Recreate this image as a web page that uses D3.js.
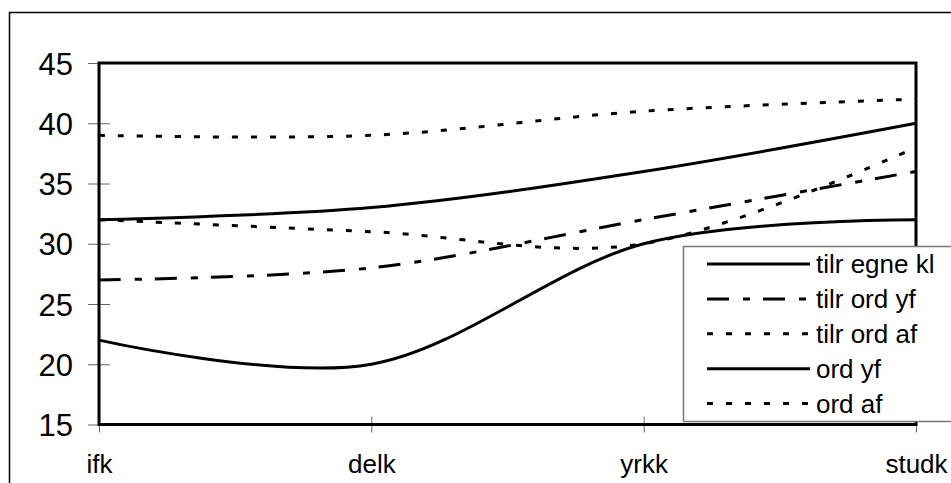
<!DOCTYPE html>
<html><head><meta charset="utf-8">
<script src="https://cdn.jsdelivr.net/npm/d3@7"></script>
<style>html,body{margin:0;padding:0;background:#fff;}svg{display:block;}</style>
</head><body>
<script>
const categories = ["ifk", "delk", "yrkk", "studk"];
const seriesNames = ["tilr egne kl", "tilr ord yf", "tilr ord af", "ord yf", "ord af"];
const tilrEgneKl = [32, 33, 36, 40];
const tilrOrdYf = [27, 28, 32, 36];
const tilrOrdAf = [32, 31, 30, 38];
const ordYf = [22, 20, 30, 32];
const ordAf = [39, 39, 41, 42];
const yTicks = [15, 20, 25, 30, 35, 40, 45];

const seriesValues = [tilrEgneKl, tilrOrdYf, tilrOrdAf, ordYf, ordAf];
const dashes = [null, "22,14,7,13", "6,13", null, "6,13"];

const W = 951, H = 483;
const svg = d3.select("body").append("svg").attr("width", W).attr("height", H);
const font = "'Liberation Sans', Arial, sans-serif";

// outer chart border (extends beyond viewport on right/bottom)
svg.append("rect").attr("x", 9.5).attr("y", 12.5).attr("width", 1200).attr("height", 800)
  .attr("fill", "#fff").attr("stroke", "#000").attr("stroke-width", 1.5);

const L = 99, R = 916, T = 63, B = 424.5;
const x = d3.scalePoint().domain(categories).range([L, R]).padding(0);
const y = d3.scaleLinear().domain([15, 45]).range([B, T]);

// y axis ticks (crossing) and labels
const yAxis = d3.axisLeft(y).tickValues(yTicks).tickSizeInner(-11).tickSizeOuter(0).tickPadding(0);
const ya = svg.append("g").attr("transform", `translate(${L},0)`).call(yAxis);
ya.select(".domain").remove();
ya.selectAll(".tick line").attr("stroke", "#666").attr("stroke-width", 1);
ya.selectAll(".tick").append("line").attr("x1", 0).attr("x2", -11).attr("stroke", "#666").attr("stroke-width", 1);
ya.selectAll(".tick text").attr("x", -26).attr("dy", "0.36em").attr("font-family", font).attr("font-size", 31).attr("fill", "#000");

// x axis ticks and labels
const xAxis = d3.axisBottom(x).tickSizeInner(8).tickSizeOuter(0).tickPadding(0);
const xa = svg.append("g").attr("transform", `translate(0,${B})`).call(xAxis);
xa.select(".domain").remove();
xa.selectAll(".tick line").attr("stroke", "#666").attr("stroke-width", 1).attr("y1", -8).attr("y2", 8);
xa.selectAll(".tick text").attr("y", 48.5).attr("dy", 0).attr("font-family", font).attr("font-size", 26).attr("fill", "#000");

// lines
const line = d3.line().x((d, i) => x(categories[i])).y(d => y(d)).curve(d3.curveCardinal.tension(0));
const lg = svg.append("g");
seriesValues.forEach((vals, k) => {
  lg.append("path").attr("d", line(vals)).attr("fill", "none").attr("stroke", "#000")
    .attr("stroke-width", 3).attr("stroke-dasharray", dashes[k]);
});

// plot area border
svg.append("rect").attr("x", L).attr("y", T).attr("width", R - L).attr("height", B - T)
  .attr("fill", "none").attr("stroke", "#000").attr("stroke-width", 3);

// legend
const leg = svg.append("g");
leg.append("rect").attr("x", 683.5).attr("y", 246.5).attr("width", 400).attr("height", 175)
  .attr("fill", "#fff").attr("stroke", "#777").attr("stroke-width", 1.5);
const rowY = d3.scalePoint().domain(seriesNames).range([264, 403.5]);
seriesNames.forEach((name, k) => {
  const yy = rowY(name);
  leg.append("line").attr("x1", 707).attr("x2", 810).attr("y1", yy).attr("y2", yy)
    .attr("stroke", "#000").attr("stroke-width", 3).attr("stroke-dasharray", dashes[k]);
  leg.append("text").attr("x", 816).attr("y", yy).attr("dy", "0.36em")
    .attr("font-family", font).attr("font-size", 26).attr("fill", "#000").text(name);
});
</script>
</body></html>
